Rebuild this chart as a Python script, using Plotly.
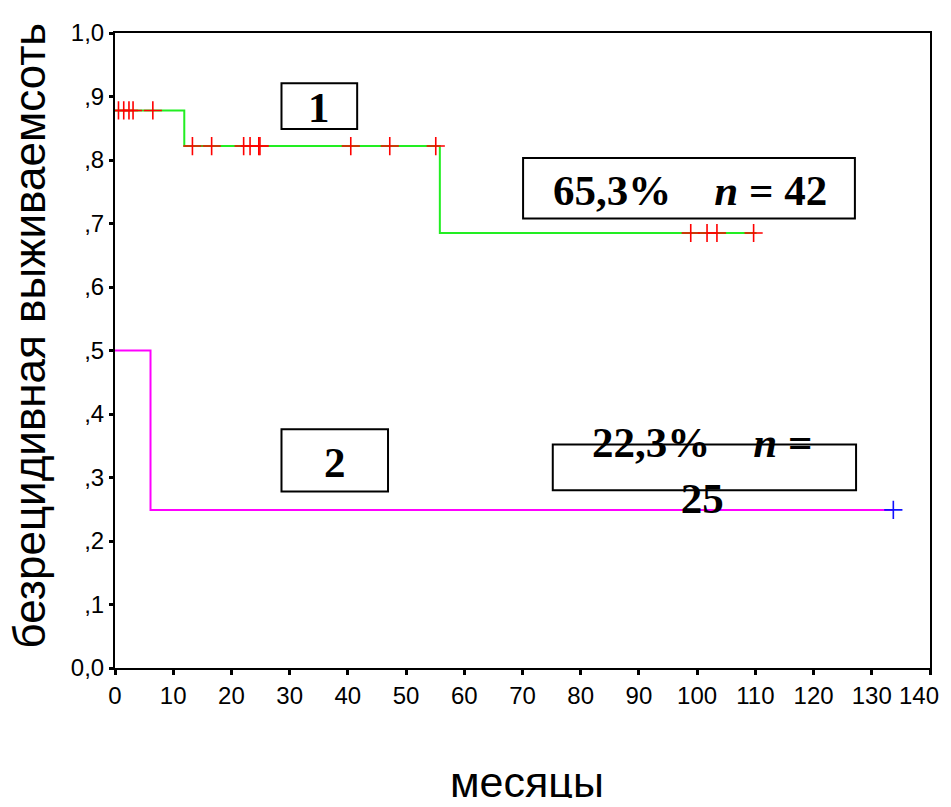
import plotly.graph_objects as go

# ---- data ----
# group 1: Kaplan-Meier step curve
g1_times = [0, 11.9, 55.8, 110.2]
g1_surv = [0.878, 0.822, 0.685, 0.685]
g1_cens_times = [0.6, 1.5, 2.4, 3.1, 6.5,
                 13.3, 16.6, 22.1, 23.2, 24.7, 24.9, 40.5, 47.2, 55.1,
                 98.9, 101.7, 103.4, 109.7]
g1_cens_surv = [0.878] * 5 + [0.822] * 9 + [0.685] * 4

# group 2
g2_times = [0, 6.1, 133.7]
g2_surv = [0.5, 0.249, 0.249]
g2_cens_times = [133.7]
g2_cens_surv = [0.249]

x_ticks = [0, 10, 20, 30, 40, 50, 60, 70, 80, 90, 100, 110, 120, 130, 140]
y_ticks = [0.0, 0.1, 0.2, 0.3, 0.4, 0.5, 0.6, 0.7, 0.8, 0.9, 1.0]
y_ticktext = ["0,0", ",1", ",2", ",3", ",4", ",5", ",6", ",7", ",8", ",9", "1,0"]

x_title = "месяцы"
y_title = "безрецидивная выживаемсоть"

NB = "\u00a0"
label1 = "1"
label2 = "2"
text1 = "65,3%" + NB * 4 + "<i>n</i> = 42"
text2 = "22,3%" + NB * 4 + "<i>n</i> =<br>25"

fig = go.Figure()

fig.add_trace(go.Scatter(x=g1_times, y=g1_surv, mode="lines", line_shape="hv",
                         line=dict(color="#22ee22", width=2), showlegend=False,
                         hoverinfo="skip"))
fig.add_trace(go.Scatter(x=g2_times, y=g2_surv, mode="lines", line_shape="hv",
                         line=dict(color="#ff00ff", width=2), showlegend=False,
                         hoverinfo="skip"))
fig.add_trace(go.Scatter(x=g1_cens_times, y=g1_cens_surv, mode="markers",
                         marker=dict(symbol="cross-thin", size=13,
                                     line=dict(color="#ff0000", width=1.6)),
                         showlegend=False))
fig.add_trace(go.Scatter(x=g2_cens_times, y=g2_cens_surv, mode="markers",
                         marker=dict(symbol="cross-thin", size=13,
                                     line=dict(color="#1010ff", width=1.6)),
                         showlegend=False))

# boxes
boxes = [
    (28.6, 41.6, 0.849, 0.921),
    (70.1, 127.1, 0.708, 0.803),
    (28.6, 46.9, 0.278, 0.376),
    (75.2, 127.3, 0.280, 0.352),
]
for x0, x1, y0, y1 in boxes:
    fig.add_shape(type="rect", xref="x", yref="y", x0=x0, x1=x1, y0=y0, y1=y1,
                  line=dict(color="black", width=2), fillcolor="rgba(0,0,0,0)")

serif = dict(family="Liberation Serif, Times New Roman, serif", size=43, color="black")
for txt, x, y in [(label1, 35.1, 0.882), (text1, 98.7, 0.752),
                  (label2, 37.8, 0.324), (text2, 100.9, 0.311)]:
    fig.add_annotation(x=x, y=y, xref="x", yref="y", text="<b>" + txt + "</b>",
                       showarrow=False, font=serif, xanchor="center", yanchor="middle")

fig.add_annotation(x=0.506, y=-0.179, xref="paper", yref="paper", text=x_title,
                   showarrow=False,
                   font=dict(family="Liberation Sans, Arial, sans-serif", size=43, color="black"),
                   xanchor="center", yanchor="middle")
fig.add_annotation(x=-0.1053, y=0.524, xref="paper", yref="paper", text=y_title,
                   textangle=-90, showarrow=False,
                   font=dict(family="Liberation Sans, Arial, sans-serif", size=44, color="black"),
                   xanchor="center", yanchor="middle")

tick_font = dict(family="Liberation Sans, Arial, sans-serif", size=24, color="black")

# last x tick label is drawn right-aligned so that it stays inside the page edge
x_ticktext = [str(v) for v in x_ticks[:-1]] + [""]
fig.add_annotation(x=x_ticks[-1], y=0, xref="x", yref="y", text=str(x_ticks[-1]),
                   showarrow=False,
                   font=dict(family="Liberation Sans, Arial, sans-serif", size=24, color="black"),
                   xanchor="right", yanchor="top", xshift=11, yshift=-12)

fig.update_xaxes(range=[0, 140], tickvals=x_ticks, ticktext=x_ticktext,
                 showline=True, linecolor="black", linewidth=2, mirror=True,
                 ticks="outside", ticklen=5, tickwidth=3, tickcolor="black",
                 showgrid=False, zeroline=False, tickfont=tick_font)
fig.update_yaxes(range=[0, 1.0], tickvals=y_ticks, ticktext=y_ticktext,
                 showline=True, linecolor="black", linewidth=2, mirror=True,
                 ticks="outside", ticklen=4, tickwidth=3, tickcolor="black",
                 showgrid=False, zeroline=False, tickfont=tick_font)

fig.update_layout(width=935, height=790, margin=dict(l=107, r=11, t=24, b=130),
                  paper_bgcolor="white", plot_bgcolor="white", showlegend=False)

fig.write_html("out.html")
